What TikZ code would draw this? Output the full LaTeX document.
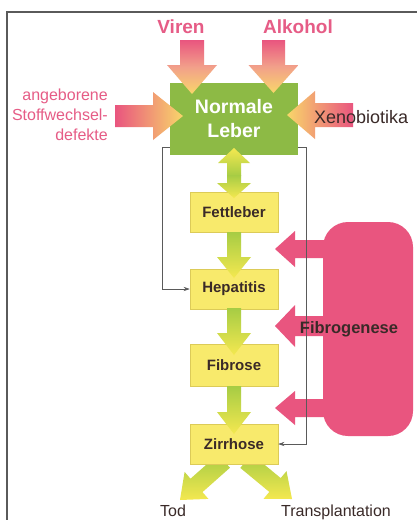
\documentclass[tikz,border=0pt]{standalone}
\usepackage{fontspec}
\setmainfont{Liberation Sans}
\usetikzlibrary{arrows.meta}
\definecolor{pk}{HTML}{E9557F}
\definecolor{pktext}{HTML}{E65C86}
\definecolor{tipc}{HTML}{F8D66A}
\definecolor{midc}{HTML}{F2A08A}
\definecolor{gbox}{HTML}{8DBA45}
\definecolor{ybox}{HTML}{F8EA6C}
\definecolor{yborder}{HTML}{DCCB58}
\definecolor{garrow}{HTML}{A6CC44}
\definecolor{yarrow}{HTML}{F4E850}
\definecolor{dtext}{HTML}{3A2A28}
\definecolor{lgray}{HTML}{5A5A5A}
\newcommand{\vertarrow}[7]{\path[#7] ({#1-#5},{#2}) -- ({#1+#5},{#2}) -- ({#1+#5},{#3}) -- ({#1+#6},{#3}) -- ({#1},{#4}) -- ({#1-#6},{#3}) -- ({#1-#5},{#3}) -- cycle;}
\newcommand{\horarrow}[7]{\path[#7] ({#1},{#2-#5}) -- ({#3},{#2-#5}) -- ({#3},{#2-#6}) -- ({#4},{#2}) -- ({#3},{#2+#6}) -- ({#3},{#2+#5}) -- ({#1},{#2+#5}) -- cycle;}
\tikzset{
  stagebox/.style={draw=yborder, line width=0.5pt, fill=ybox, minimum width=88pt, minimum height=40pt, inner sep=0pt, text=dtext, font=\fontsize{15}{18}\selectfont\bfseries},
  pinkdown/.style={top color=pk, bottom color=tipc, middle color=midc},
  greendown/.style={top color=garrow, bottom color=yarrow},
  greenup/.style={top color=yarrow, bottom color=garrow},
  conn/.style={draw=lgray, line width=0.6pt, -{Stealth[length=6pt,width=4pt]}},
  pinklabel/.style={text=pktext, inner sep=0pt},
  darklabel/.style={text=dtext, inner sep=0pt}
}
\begin{document}
\begin{tikzpicture}[x=1pt,y=-1pt]
\useasboundingbox (0,0) rectangle (417,520);
\fill[white] (0,0) rectangle (417,520);
% frame
\draw[lgray, line width=1.4pt] (7,520) -- (7,12) -- (417,12);

% Fibrogenese block and arrows
\fill[pk, rounded corners=25pt] (323,222) rectangle (413,436);
\horarrow{330}{249}{295}{275}{9}{18}{fill=pk}
\horarrow{330}{326}{295}{275}{10}{21}{fill=pk}
\horarrow{330}{408}{295}{275}{9}{17}{fill=pk}

% bottom diagonal arrows (behind Zirrhose box)
\path[greendown] (218,454.3) -- (190.5,478.7) -- (184.6,471.9) -- (180,500) -- (208.4,498.9) -- (202.5,492.1) -- (230,467.7) -- cycle;
\path[greendown] (251.7,454.1) -- (280.7,478.1) -- (286.5,471.1) -- (292,499) -- (263.5,498.9) -- (269.3,491.9) -- (240.3,467.9) -- cycle;

% boxes
\node[fill=gbox, minimum width=128pt, minimum height=72pt, inner sep=0pt, text=white, align=center, font=\fontsize{19.5}{24}\selectfont\bfseries] (lv) at (234,119) {Normale\\Leber};
\node[stagebox] (fett) at (234,212) {Fettleber};
\node[stagebox] (hep) at (234,289) {Hepatitis};
\node[stagebox, minimum height=42pt] (fib) at (234,365) {Fibrose};
\node[stagebox] (zir) at (234,444) {Zirrhose};

% thin connectors
\draw[conn] ([yshift=8pt]lv.south west) -- ++(-8,0) |- (hep.west);
\draw[conn] ([yshift=8pt]lv.south east) -- ++(8,0) |- (zir.east);

% green vertical arrows
\vertarrow{234}{176}{163}{148}{7}{16}{greenup}
\vertarrow{234}{175}{183}{198}{7}{17}{greendown}
\vertarrow{234}{232}{257}{278}{7}{17}{greendown}
\vertarrow{234}{308}{333}{355}{7}{17}{greendown}
\vertarrow{234}{386}{412}{434}{7}{17}{greendown}

% pink input arrows
\vertarrow{192}{40}{65}{94}{12}{25}{pinkdown}
\vertarrow{273.5}{40}{65}{93}{11.5}{25}{pinkdown}
\horarrow{115}{116}{153}{183}{11}{24}{left color=pk, right color=tipc}
\horarrow{353}{115}{315}{287}{12}{24}{left color=tipc, right color=pk}

% labels
\node[pinklabel, anchor=base, font=\fontsize{19}{22}\selectfont\bfseries] (viren) at (181,33) {Viren};
\node[pinklabel, anchor=base, font=\fontsize{19}{22}\selectfont\bfseries] (alk) at (298,33) {Alkohol};
\node[pinklabel, anchor=base east, font=\fontsize{16}{20}\selectfont] (ang1) at (108,100) {angeborene};
\node[pinklabel, anchor=base east, font=\fontsize{16}{20}\selectfont] (ang2) at (108,120) {Stoffwechsel-};
\node[pinklabel, anchor=base east, font=\fontsize{16}{20}\selectfont] (ang3) at (108,140) {defekte};
\node[darklabel, anchor=base west, font=\fontsize{18}{22}\selectfont] (xeno) at (314,123) {Xenobiotika};
\node[darklabel, anchor=base, font=\fontsize{16.5}{20}\selectfont\bfseries] (fibro) at (349,333) {Fibrogenese};
\node[darklabel, anchor=base, font=\fontsize{16}{20}\selectfont] (tod) at (173,516) {Tod};
\node[darklabel, anchor=base, font=\fontsize{16}{20}\selectfont] (trans) at (336,516) {Transplantation};
\end{tikzpicture}
\end{document}
